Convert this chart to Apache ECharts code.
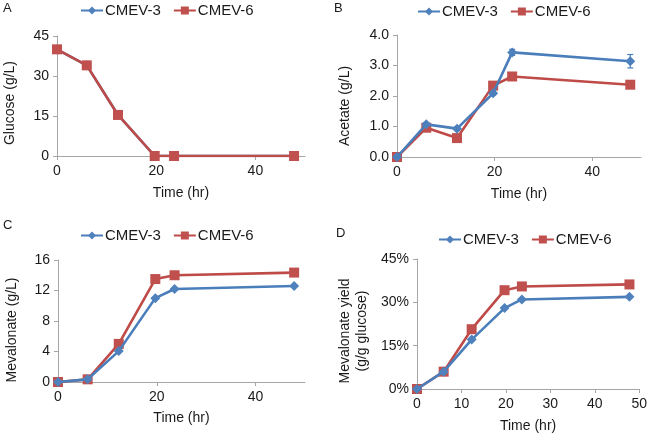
<!DOCTYPE html>
<html>
<head>
<meta charset="utf-8">
<script src="https://cdn.jsdelivr.net/npm/echarts@6/dist/echarts.min.js"></script>
<style>html,body{margin:0;padding:0;background:#fff}#c{width:650px;height:434px}</style>
</head>
<body>
<div id="c"></div>
<script>
// Data
var time = [0, 6, 12.3, 19.7, 23.6, 47.8];
var glucose3 = [40, 34, 15.4, 0, 0, 0];
var glucose6 = [40, 34, 15.4, 0, 0, 0];
var acetate3 = [0, 1.07, 0.93, 2.09, 3.43, 3.14];
var acetate3Err = [0, 0.05, 0.05, 0.05, 0.1, 0.22];
var acetate6 = [0, 0.96, 0.62, 2.34, 2.64, 2.37];
var mev3 = [0, 0.35, 4.05, 11.0, 12.2, 12.6];
var mev6 = [0, 0.35, 5.0, 13.5, 14.0, 14.35];
var yield3 = [0, 6.0, 17.1, 28.0, 31.0, 31.9];
var yield6 = [0, 6.0, 20.7, 34.2, 35.5, 36.2];
var seriesNames = ['CMEV-3', 'CMEV-6'];
var panelLetters = ['A', 'B', 'C', 'D'];
var yTitles = ['Glucose (g/L)', 'Acetate (g/L)', 'Mevalonate (g/L)', 'Mevalonate yield\n(g/g glucose)'];
var xTitle = 'Time (hr)';

function pairs(xs, ys) { return xs.map(function (x, i) { return [x, ys[i]]; }); }

var BLUE = '#4A7EBB', RED = '#BE4B48', AX = '#A6A6A6', TXT = '#1a1a1a';
var FONT = 'Liberation Sans, Arial, sans-serif';

var grids = [
  {left: 57, top: 36, width: 248, height: 120},
  {left: 397, top: 35, width: 244, height: 122},
  {left: 58, top: 260, width: 247, height: 122},
  {left: 417, top: 259, width: 228, height: 130}
];
var xCfg = [
  {max: 50, interval: 20, gap: 30},
  {max: 50, interval: 20, gap: 30},
  {max: 50, interval: 20, gap: 29},
  {max: 50, interval: 10, gap: 30}
];
var yCfg = [
  {max: 45, interval: 15, gap: 38, shift: 14, fmt: function (v) { return v; }},
  {max: 4, interval: 1, gap: 43, shift: 20, fmt: function (v) { return v.toFixed(1); }},
  {max: 16, interval: 4, gap: 37, shift: 18, fmt: function (v) { return v; }},
  {max: 45, interval: 15, gap: 46, shift: 14, fmt: function (v) { return v + '%'; }}
];

var xAxes = [], yAxes = [];
for (var i = 0; i < 4; i++) {
  xAxes.push({
    type: 'value', gridIndex: i, min: 0, max: xCfg[i].max, interval: xCfg[i].interval,
    name: xTitle, nameLocation: 'middle', nameGap: xCfg[i].gap,
    nameTextStyle: {fontFamily: FONT, fontSize: 14, color: TXT},
    axisLine: {show: true, onZero: false, lineStyle: {color: AX, width: 1}},
    axisTick: {show: true, length: 4, lineStyle: {color: AX}},
    axisLabel: {fontFamily: FONT, fontSize: 14, color: TXT, margin: 8,
      showMaxLabel: xCfg[i].interval === 10 ? true : false},
    splitLine: {show: false}
  });
  yAxes.push({
    type: 'value', gridIndex: i, min: 0, max: yCfg[i].max, interval: yCfg[i].interval,
    name: yTitles[i], nameLocation: 'middle', nameGap: yCfg[i].gap,
    nameTextStyle: {fontFamily: FONT, fontSize: 14, color: TXT, lineHeight: 17,
      padding: [0, yCfg[i].shift, 0, 0]},
    axisLine: {show: true, lineStyle: {color: AX, width: 1}},
    axisTick: {show: true, length: 4, lineStyle: {color: AX}},
    axisLabel: {fontFamily: FONT, fontSize: 14, color: TXT, margin: 8, formatter: yCfg[i].fmt},
    splitLine: {show: false}
  });
}

function lineSeries(name, idx, data, isBlue) {
  return {
    type: 'line', name: name, xAxisIndex: idx, yAxisIndex: idx, data: data,
    symbol: isBlue ? 'diamond' : 'rect', symbolSize: 10,
    lineStyle: {color: isBlue ? BLUE : RED, width: 2.6},
    itemStyle: {color: isBlue ? '#4F81BD' : '#C0504D'},
    z: isBlue ? 3 : 2, animation: false
  };
}

var series = [
  lineSeries('CMEV-6', 0, pairs(time, glucose6), false),
  lineSeries('CMEV-3', 0, pairs(time, glucose3), true),
  lineSeries('CMEV-6', 1, pairs(time, acetate6), false),
  lineSeries('CMEV-3', 1, pairs(time, acetate3), true),
  lineSeries('CMEV-6', 2, pairs(time, mev6), false),
  lineSeries('CMEV-3', 2, pairs(time, mev3), true),
  lineSeries('CMEV-6', 3, pairs(time, yield6), false),
  lineSeries('CMEV-3', 3, pairs(time, yield3), true)
];
// Panel A: red drawn over blue
series[0].z = 4;
// error bars for CMEV-3 acetate
series.push({
  type: 'custom', xAxisIndex: 1, yAxisIndex: 1, z: 5, animation: false,
  data: time.map(function (t, i) { return [t, acetate3[i] - acetate3Err[i], acetate3[i] + acetate3Err[i]]; }),
  renderItem: function (params, api) {
    var lo = api.coord([api.value(0), api.value(1)]);
    var hi = api.coord([api.value(0), api.value(2)]);
    var w = 3;
    var st = {stroke: BLUE, lineWidth: 1.2};
    return {type: 'group', children: [
      {type: 'line', shape: {x1: lo[0], y1: lo[1], x2: hi[0], y2: hi[1]}, style: st},
      {type: 'line', shape: {x1: lo[0] - w, y1: lo[1], x2: lo[0] + w, y2: lo[1]}, style: st},
      {type: 'line', shape: {x1: hi[0] - w, y1: hi[1], x2: hi[0] + w, y2: hi[1]}, style: st}
    ]};
  }
});

var legendPos = [
  {left: 80, top: 3},
  {left: 417, top: 4},
  {left: 80, top: 228},
  {left: 438, top: 232}
];
var legends = legendPos.map(function (p) {
  return {left: p.left, top: p.top, padding: 0, data: seriesNames, itemWidth: 22, itemHeight: 10, itemGap: 12,
    textStyle: {fontFamily: FONT, fontSize: 15, color: TXT, padding: [0, 0, 0, -3]}, selectedMode: false};
});

var letterPos = [[3, 2], [334, 2], [3, 219], [336, 227]];
var titles = letterPos.map(function (p, i) {
  return {text: panelLetters[i], left: p[0], top: p[1], padding: 0,
    textStyle: {fontFamily: FONT, fontSize: 13, fontWeight: 'normal', color: TXT}};
});

var chart = echarts.init(document.getElementById('c'), null, {renderer: 'canvas'});
chart.setOption({
  animation: false,
  title: titles,
  legend: legends,
  grid: grids,
  xAxis: xAxes,
  yAxis: yAxes,
  series: series
});
</script>
</body>
</html>
